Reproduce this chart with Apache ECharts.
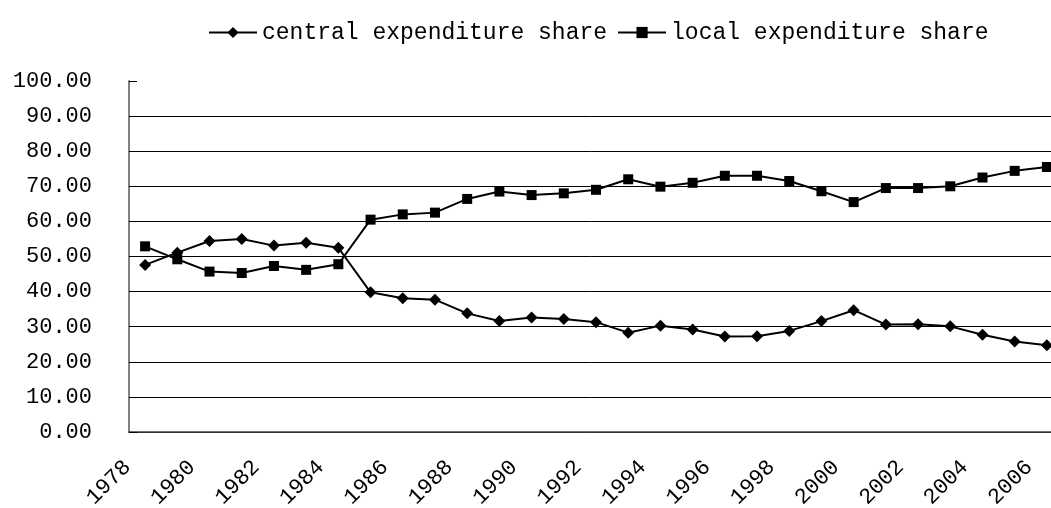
<!DOCTYPE html>
<html>
<head>
<meta charset="utf-8">
<script src="https://cdn.jsdelivr.net/npm/echarts@6/dist/echarts.min.js"></script>
<style>
html,body{margin:0;padding:0;background:#fff;}
#chart{width:1051px;height:508px;}
</style>
</head>
<body>
<div id="chart"></div>
<script>
	// 年份与数据
	var years = ['1978','1979','1980','1981','1982','1983','1984','1985','1986','1987',
		'1988','1989','1990','1991','1992','1993','1994','1995','1996','1997',
		'1998','1999','2000','2001','2002','2003','2004','2005','2006'];
	var centralShare = [47.6, 51.1, 54.4, 55.0, 53.1, 53.9, 52.5, 39.8, 38.1, 37.7,
		33.8, 31.6, 32.6, 32.2, 31.3, 28.3, 30.3, 29.2, 27.2, 27.3,
		28.8, 31.6, 34.7, 30.6, 30.7, 30.1, 27.7, 25.8, 24.7];
	var localShare = [52.9, 49.2, 45.7, 45.3, 47.3, 46.2, 47.8, 60.5, 62.0, 62.5,
		66.4, 68.5, 67.5, 68.0, 69.0, 72.0, 69.9, 71.0, 73.0, 73.0,
		71.5, 68.6, 65.5, 69.5, 69.5, 70.0, 72.5, 74.4, 75.5];
	var legendNames = ['central expenditure share', 'local expenditure share'];

	var font = "'Liberation Mono', 'DejaVu Sans Mono', monospace";
	var myChart = echarts.init(document.getElementById('chart'));
	var option = {
		animation: false,
		color: ['#000', '#000'],
		legend: {
			left: 203,
			top: 16,
			itemWidth: 48,
			itemHeight: 14,
			itemGap: 10,
			textStyle: {
				fontFamily: font,
				fontSize: 23,
				color: '#000'
			},
			data: legendNames
		},
		grid: {
			left: 129,
			top: 81,
			width: 934,
			height: 351,
			outerBoundsMode: 'none',
			containLabel: false
		},
		xAxis: {
			type: 'category',
			data: years,
			boundaryGap: true,
			axisLine: {
				lineStyle: { color: '#404040', width: 1.5 }
			},
			axisTick: {
				inside: true,
				length: 9,
				interval: 0,
				lineStyle: { color: '#000' }
			},
			axisLabel: {
				interval: 1,
				rotate: 45,
				margin: 14,
				padding: [0, 25, 0, 0],
				fontFamily: font,
				fontSize: 22,
				color: '#000'
			}
		},
		yAxis: {
			type: 'value',
			min: 0,
			max: 100,
			interval: 10,
			axisLine: {
				show: true,
				lineStyle: { color: '#808080', width: 2 }
			},
			axisTick: {
				show: true,
				inside: true,
				length: 8,
				lineStyle: { color: '#000' }
			},
			axisLabel: {
				margin: 37,
				fontFamily: font,
				fontSize: 22,
				color: '#000',
				formatter: function (v) { return v.toFixed(2); }
			},
			splitLine: {
				show: true,
				showMaxLine: false,
				lineStyle: { color: '#000', width: 1 }
			}
		},
		series: [{
			name: legendNames[0],
			type: 'line',
			symbol: 'diamond',
			symbolSize: 12,
			lineStyle: { color: '#000', width: 2 },
			itemStyle: { color: '#000' },
			data: centralShare
		}, {
			name: legendNames[1],
			type: 'line',
			symbol: 'rect',
			symbolSize: 10,
			lineStyle: { color: '#000', width: 2 },
			itemStyle: { color: '#000' },
			data: localShare
		}]
	};
	myChart.setOption(option);
</script>
</body>
</html>
